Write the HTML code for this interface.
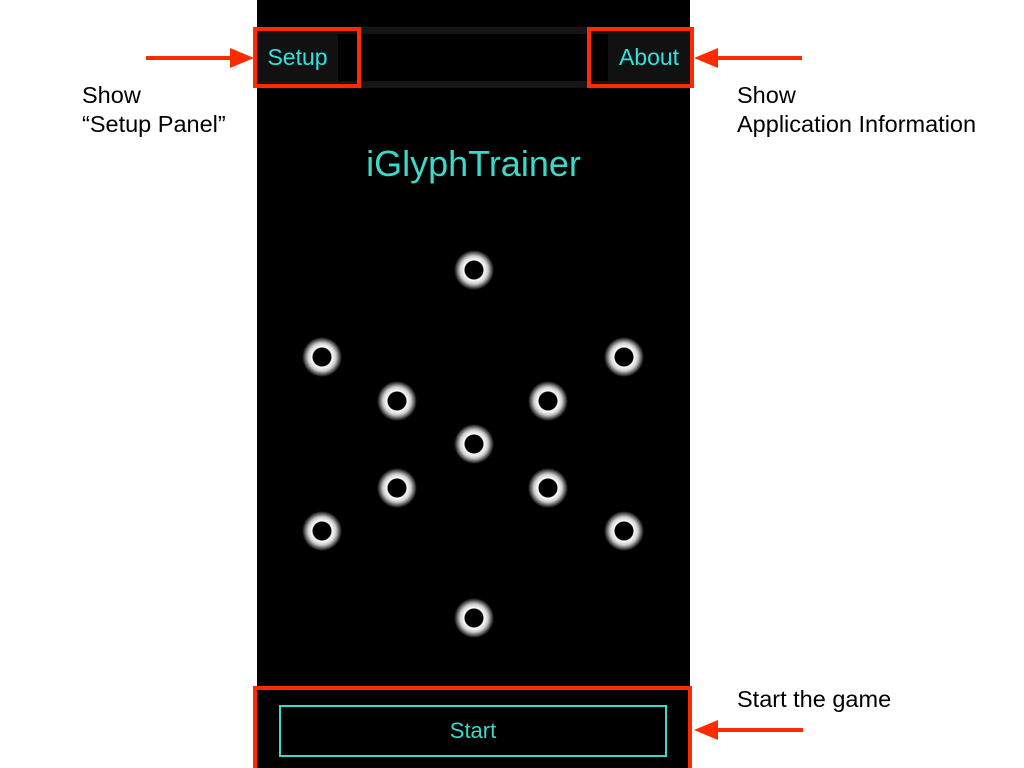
<!DOCTYPE html>
<html style="margin:0;width:1024px;height:768px;overflow:hidden"><head><style>
body{margin:0;width:1024px;height:768px;background:#fff;position:relative;overflow:hidden;font-family:"Liberation Sans",sans-serif}
.a{position:absolute}
.dot{position:absolute;width:40px;height:40px;border-radius:50%;background:radial-gradient(circle,#000 0,#000 9px,#fff 10px,#ccc 14px,rgba(255,255,255,0) 20px)}
.t{position:absolute;color:#000;font-size:23.5px;line-height:29px}
</style></head><body>
<div class="a" style="left:257px;top:0;width:433px;height:768px;background:#000"></div>
<div class="a" style="left:257px;top:27px;width:433px;height:61px;background:#151515"></div>
<div class="a" style="left:338px;top:34px;width:270px;height:47px;background:#000"></div>
<div class="a" style="left:257px;top:34px;width:81px;height:47px;background:#111;color:#2fe3e0;font-size:23px;line-height:47px;text-align:center">Setup</div>
<div class="a" style="left:608px;top:34px;width:82px;height:47px;background:#111;color:#2fe3e0;font-size:23px;line-height:47px;text-align:center">About</div>
<div class="a" style="left:253px;top:27px;width:100px;height:53px;border:4px solid #ff2a00"></div>
<div class="a" style="left:587px;top:27px;width:99px;height:53px;border:4px solid #ff2a00"></div>
<div class="a" style="left:257px;top:142px;width:433px;text-align:center;color:#3ad9c9;font-size:36px;line-height:44px">iGlyphTrainer</div>
<div class="dot" style="left:454px;top:250px"></div>
<div class="dot" style="left:302px;top:337px"></div>
<div class="dot" style="left:604px;top:337px"></div>
<div class="dot" style="left:377px;top:381px"></div>
<div class="dot" style="left:528px;top:381px"></div>
<div class="dot" style="left:454px;top:424px"></div>
<div class="dot" style="left:377px;top:468px"></div>
<div class="dot" style="left:528px;top:468px"></div>
<div class="dot" style="left:302px;top:511px"></div>
<div class="dot" style="left:604px;top:511px"></div>
<div class="dot" style="left:454px;top:598px"></div>
<div class="a" style="left:253px;top:686px;width:431px;height:78px;border:4px solid #ff2a00;border-bottom:none"></div>
<div class="a" style="left:279px;top:705px;width:384px;height:48px;border:2px solid #3ad9c9;color:#3ad9c9;font-size:22px;line-height:48px;text-align:center">Start</div>
<svg class="a" style="left:0;top:0" width="1024" height="768">
<g fill="#ff2a00" stroke="#ff2a00">
<line x1="146" y1="58" x2="232" y2="58" stroke-width="4"/>
<polygon points="230,48 254,58 230,68" stroke="none"/>
<line x1="716" y1="58" x2="802" y2="58" stroke-width="4"/>
<polygon points="718,48 694,58 718,68" stroke="none"/>
<line x1="716" y1="730" x2="803" y2="730" stroke-width="4"/>
<polygon points="718,720 694,730 718,740" stroke="none"/>
</g></svg>
<div class="t" style="left:82px;top:81px">Show<br>“Setup Panel”</div>
<div class="t" style="left:737px;top:81px">Show<br>Application Information</div>
<div class="t" style="left:737px;top:685px">Start the game</div>
</body></html>
